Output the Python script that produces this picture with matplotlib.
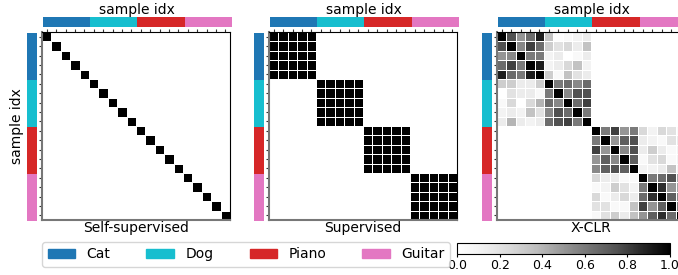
import numpy as np
import matplotlib
matplotlib.use('Agg')
import matplotlib.pyplot as plt
from matplotlib.patches import Patch
from matplotlib.colors import ListedColormap

classes = ['Cat', 'Dog', 'Piano', 'Guitar']
class_colors = ['#1f77b4', '#17becf', '#d62728', '#e377c2']
per_class = 5
sample_labels = np.repeat(np.arange(len(classes)), per_class)
n = len(sample_labels)

titles = ['Self-supervised', 'Supervised', 'X-CLR']

# similarity targets
self_sup = np.eye(n)
supervised = (sample_labels[:, None] == sample_labels[None, :]).astype(float)

# X-CLR soft similarities, animals block and instruments block
animals = [
    [1.00, 0.75, 0.50, 0.65, 0.90, 0.35, 0.02, 0.05, 0.10, 0.15],
    [0.75, 1.00, 0.55, 0.80, 0.65, 0.30, 0.20, 0.25, 0.15, 0.35],
    [0.50, 0.55, 1.00, 0.60, 0.60, 0.10, 0.15, 0.00, 0.05, 0.15],
    [0.65, 0.80, 0.60, 1.00, 0.90, 0.10, 0.15, 0.25, 0.35, 0.10],
    [0.90, 0.65, 0.60, 0.90, 1.00, 0.30, 0.05, 0.35, 0.20, 0.15],
    [0.30, 0.30, 0.15, 0.15, 0.30, 1.00, 0.60, 0.65, 0.55, 0.65],
    [0.00, 0.20, 0.15, 0.15, 0.05, 0.60, 1.00, 0.55, 0.75, 0.75],
    [0.05, 0.25, 0.00, 0.25, 0.40, 0.65, 0.55, 1.00, 0.65, 0.80],
    [0.10, 0.15, 0.10, 0.35, 0.20, 0.55, 0.75, 0.65, 1.00, 0.60],
    [0.15, 0.40, 0.15, 0.10, 0.15, 0.65, 0.75, 0.80, 0.60, 1.00],
]
instruments = [
    [1.00, 0.60, 0.80, 0.50, 0.60, 0.25, 0.10, 0.25, 0.20, 0.05],
    [0.60, 1.00, 0.50, 0.70, 0.75, 0.15, 0.10, 0.05, 0.20, 0.15],
    [0.80, 0.50, 1.00, 0.55, 0.75, 0.15, 0.30, 0.15, 0.05, 0.10],
    [0.50, 0.70, 0.55, 1.00, 0.70, 0.05, 0.20, 0.25, 0.05, 0.10],
    [0.55, 0.70, 0.75, 0.70, 1.00, 0.10, 0.10, 0.15, 0.35, 0.10],
    [0.25, 0.15, 0.15, 0.05, 0.05, 1.00, 0.60, 0.65, 0.75, 0.45],
    [0.05, 0.10, 0.30, 0.20, 0.10, 0.60, 1.00, 0.85, 0.50, 0.45],
    [0.25, 0.05, 0.15, 0.25, 0.15, 0.65, 0.85, 1.00, 0.70, 0.55],
    [0.20, 0.20, 0.05, 0.05, 0.35, 0.80, 0.50, 0.70, 1.00, 0.60],
    [0.05, 0.20, 0.30, 0.15, 0.35, 0.50, 0.70, 0.85, 0.65, 1.00],
]
zero = np.zeros((10, 10))
xclr = np.block([[np.array(animals), zero], [zero, np.array(instruments)]])

mats = [self_sup, supervised, xclr]

W, H = 678, 275
fig = plt.figure(figsize=(W / 100, H / 100), dpi=100)

def px(l, t, w, h):
    return [l / W, (H - t - h) / H, w / W, h / H]

lefts = [42, 269, 497]
size = 188
top = 32
cmap_lab = ListedColormap(class_colors)

for i, (m, title) in enumerate(zip(mats, titles)):
    l = lefts[i]
    ax = fig.add_axes(px(l, top, size, size))
    ax.pcolormesh(np.arange(n + 1), np.arange(n + 1), m, cmap='Greys', vmin=0, vmax=1,
                  edgecolors='white', linewidth=0.7)
    ax.set_xlim(0, n)
    ax.set_ylim(n, 0)
    ax.set_xticks(np.arange(n) + 0.5)
    ax.set_yticks(np.arange(n) + 0.5)
    ax.tick_params(top=True, bottom=False, labeltop=False, labelbottom=False,
                   labelleft=False, length=2.5, width=0.8, pad=0, color='#333333')
    for s in ['bottom', 'left']:
        ax.spines[s].set_color('#777777')
        ax.spines[s].set_linewidth(1.5)
    ax.set_xlabel(title, fontsize=10, labelpad=1)

    # class strip on top
    axt = fig.add_axes(px(l + 1, 17, size, 10))
    axt.imshow(sample_labels[None, :], cmap=cmap_lab, aspect='auto', vmin=0, vmax=3,
               interpolation='nearest')
    axt.axis('off')
    axt.set_title('sample idx', fontsize=10, pad=2)

    # class strip on left
    axl = fig.add_axes(px(l - 15, top + 1, 10, size))
    axl.imshow(sample_labels[:, None], cmap=cmap_lab, aspect='auto', vmin=0, vmax=3,
               interpolation='nearest')
    axl.axis('off')

fig.text(17 / W, 1 - 126 / H, 'sample idx', rotation=90, ha='center', va='center', fontsize=10)

handles = [Patch(color=c, label=k) for k, c in zip(classes, class_colors)]
fig.legend(handles=handles, ncol=4, loc='lower left', bbox_to_anchor=(42 / W, 1 - 267 / H),
           borderaxespad=0, fontsize=10, columnspacing=2.6, frameon=True)

cax = fig.add_axes(px(457, 243, 213, 11))
sm = plt.cm.ScalarMappable(cmap='Greys', norm=plt.Normalize(0, 1))
cb = fig.colorbar(sm, cax=cax, orientation='horizontal')
cb.set_ticks([0, 0.2, 0.4, 0.6, 0.8, 1.0])
cb.ax.tick_params(labelsize=9, length=2.5, pad=1)

fig.savefig('out.png', dpi=100)
